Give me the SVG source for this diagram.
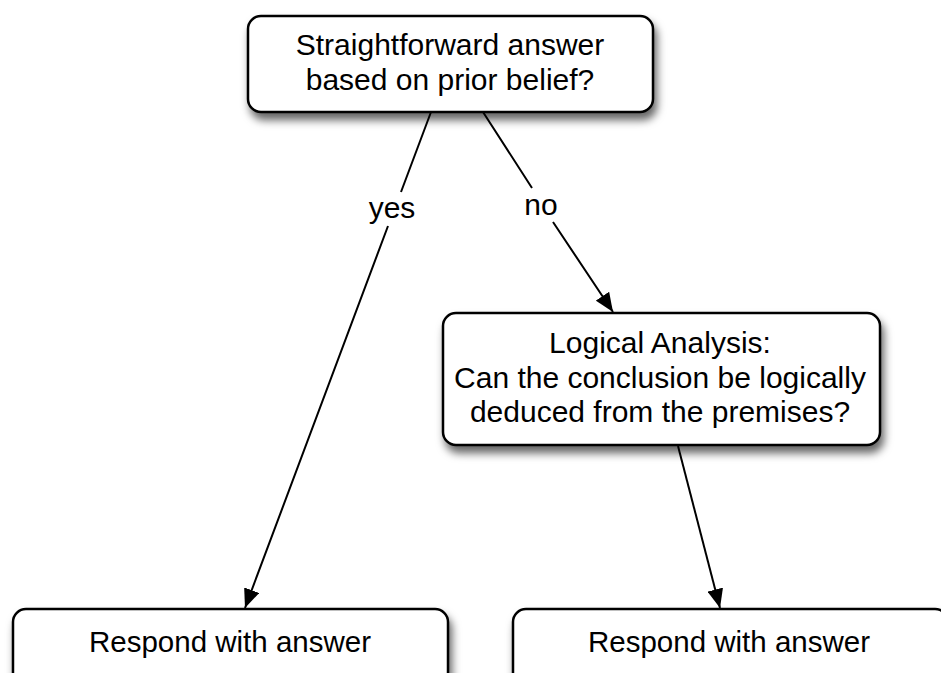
<svg xmlns="http://www.w3.org/2000/svg" width="941" height="673" viewBox="0 0 941 673">
<defs>
<filter id="sh" x="-10%" y="-20%" width="130%" height="160%">
<feDropShadow dx="3" dy="7" stdDeviation="4.5" flood-color="#000" flood-opacity="0.6"/>
</filter>
<marker id="ah" markerUnits="userSpaceOnUse" markerWidth="19" markerHeight="16" refX="19" refY="8" orient="auto">
<path d="M0,0 L19,8 L0,16 z" fill="#000"/>
</marker>
</defs>
<style>
.box{fill:#fff;stroke:#000;stroke-width:2.5;filter:url(#sh)}
.t{font-family:"Liberation Sans",Arial,sans-serif;font-size:30px;fill:#000;text-anchor:middle}
.s{font-size:29.5px}
.c{fill:none;stroke:#000;stroke-width:2}
</style>
<rect width="941" height="673" fill="#fff"/>
<g id="connectors">
<path class="c" d="M431,112 L401,192 M388,226 L245,608" marker-end="url(#ah)"/>
<path class="c" d="M483,112 L532,188 M553,222 L613,312" marker-end="url(#ah)"/>
<path class="c" d="M678,446 L720,608" marker-end="url(#ah)"/>
<text class="t" x="392" y="218">yes</text>
<text class="t" x="541" y="215">no</text>
</g>
<g id="n-top">
<rect class="box" x="248" y="16" width="405" height="96" rx="13"/>
<text class="t" x="450" y="55">Straightforward answer</text>
<text class="t" x="450" y="90">based on prior belief?</text>
</g>
<g id="n-logic">
<rect class="box" x="443" y="313" width="437" height="132" rx="13"/>
<text class="t" x="660" y="353">Logical Analysis:</text>
<text class="t" x="660" y="388">Can the conclusion be logically</text>
<text class="t" x="660" y="422">deduced from the premises?</text>
</g>
<g id="n-resp1">
<rect class="box" x="13" y="609" width="435" height="90" rx="13"/>
<text class="t s" x="230" y="652">Respond with answer</text>
</g>
<g id="n-resp2">
<rect class="box" x="513" y="609" width="435" height="90" rx="13"/>
<text class="t s" x="729" y="652">Respond with answer</text>
</g>
</svg>
